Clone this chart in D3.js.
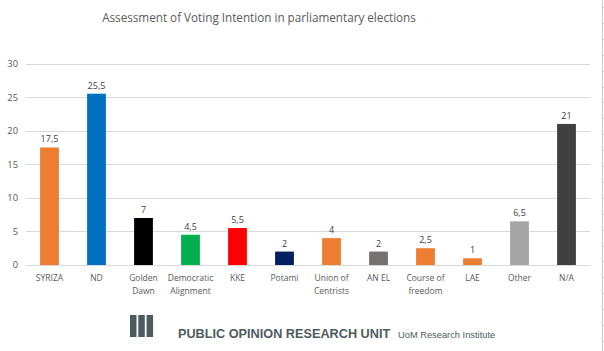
<!DOCTYPE html>
<html>
<head>
<meta charset="utf-8">
<script src="https://cdn.jsdelivr.net/npm/d3@7"></script>
<style>
  body { margin: 0; background: #fff; }
  svg { display: block; font-family: "Open Sans", "Liberation Sans", sans-serif; }
</style>
</head>
<body>
<svg id="chart" width="604" height="351"></svg>
<script>
// data
var parties = ['SYRIZA', 'ND', 'Golden Dawn', 'Democratic Alignment', 'KKE', 'Potami',
               'Union of Centrists', 'ANEL', 'Course of freedom', 'LAE', 'Other', 'N/A'];
var labelLines = [['SYRIZA'], ['ND'], ['Golden', 'Dawn'], ['Democratic', 'Alignment'], ['KKE'], ['Potami'],
                  ['Union of', 'Centrists'], ['AN EL'], ['Course of', 'freedom'], ['LAE'], ['Other'], ['N/A']];
var votes = [17.5, 25.5, 7, 4.5, 5.5, 2, 4, 2, 2.5, 1, 6.5, 21];
var barColors = ['#ED7D31', '#0070C0', '#000000', '#00B050', '#FF0000', '#002060',
                 '#ED7D31', '#767171', '#ED7D31', '#ED7D31', '#A5A5A5', '#404040'];
var yTicks = [0, 5, 10, 15, 20, 25, 30];

var svg = d3.select('#chart');
var plot = { left: 26, right: 590, top: 63.5, bottom: 265 };

var x = d3.scaleBand()
    .domain(parties)
    .range([plot.left, plot.right])
    .paddingInner(0.6)
    .paddingOuter(0.3);

var y = d3.scaleLinear()
    .domain([0, 30])
    .range([plot.bottom, plot.top]);

// title
svg.append('text')
    .attr('x', 259)
    .attr('y', 22)
    .attr('text-anchor', 'middle')
    .style('font-size', '11.7px')
    .style('fill', '#595959')
    .text('Assessment of Voting Intention in parliamentary elections');

// gridlines
svg.append('g')
    .selectAll('line')
    .data(yTicks)
  .enter().append('line')
    .attr('x1', plot.left)
    .attr('x2', plot.right)
    .attr('y1', function(d) { return Math.round(y(d)) + 0.5; })
    .attr('y2', function(d) { return Math.round(y(d)) + 0.5; })
    .attr('stroke', '#d9d9d9')
    .attr('stroke-width', 1);

// y axis labels
var yAxis = svg.append('g')
    .attr('transform', 'translate(' + plot.left + ',0)')
    .call(d3.axisLeft(y).tickValues(yTicks).tickSize(0).tickPadding(8));
yAxis.select('.domain').remove();
yAxis.selectAll('text')
    .style('font-size', '9.3px')
    .style('fill', '#595959')
    .style('font-family', '"Open Sans", sans-serif');

// bars
svg.append('g')
    .selectAll('rect')
    .data(votes)
  .enter().append('rect')
    .attr('x', function(d, i) { return x(parties[i]); })
    .attr('width', x.bandwidth())
    .attr('y', function(d) { return y(d); })
    .attr('height', function(d) { return y(0) - y(d); })
    .attr('fill', function(d, i) { return barColors[i]; });

// value labels
svg.append('g')
    .selectAll('text')
    .data(votes)
  .enter().append('text')
    .attr('x', function(d, i) { return x(parties[i]) + x.bandwidth() / 2; })
    .attr('y', function(d) { return y(d) - 5; })
    .attr('text-anchor', 'middle')
    .style('font-size', '9px')
    .style('fill', '#404040')
    .text(function(d) { return String(d).replace('.', ','); });

// category labels
var cats = svg.append('g')
    .selectAll('text')
    .data(labelLines)
  .enter().append('text')
    .attr('x', function(d, i) { return x(parties[i]) + x.bandwidth() / 2; })
    .attr('y', 281)
    .attr('text-anchor', 'middle')
    .style('font-size', '8.5px')
    .style('fill', '#595959');
cats.selectAll('tspan')
    .data(function(d) { return d; })
  .enter().append('tspan')
    .attr('x', function() { return d3.select(this.parentNode).attr('x'); })
    .attr('dy', function(d, i) { return i === 0 ? 0 : 12.5; })
    .text(function(d) { return d; });

// sheet border on the right edge
svg.append('line')
    .attr('x1', 602.5).attr('x2', 602.5)
    .attr('y1', 0).attr('y2', 351)
    .attr('stroke', '#c8c8c8');
svg.append('g')
    .selectAll('line')
    .data(d3.range(7, 351, 15.9))
  .enter().append('line')
    .attr('x1', 603).attr('x2', 604)
    .attr('y1', function(d) { return Math.round(d) + 0.5; })
    .attr('y2', function(d) { return Math.round(d) + 0.5; })
    .attr('stroke', '#d0d0d0');

// logo
var logo = svg.append('g').attr('fill', '#4d5b60');
[0, 1, 2].forEach(function(i) {
    logo.append('rect')
        .attr('x', 130 + i * 8.3)
        .attr('y', 315)
        .attr('width', 6.5)
        .attr('height', 22);
});
svg.append('text')
    .attr('x', 178)
    .attr('y', 338)
    .style('fill', '#4d5b60')
    .style('font-family', '"Liberation Sans", Arial, sans-serif')
    .style('font-size', '12.7px')
    .style('font-weight', 'bold')
    .text('PUBLIC OPINION RESEARCH UNIT');
svg.append('text')
    .attr('x', 398)
    .attr('y', 338)
    .style('fill', '#4d5b60')
    .style('font-family', '"Liberation Sans", Arial, sans-serif')
    .style('font-size', '9.3px')
    .text('UoM Research Institute');
</script>
</body>
</html>
